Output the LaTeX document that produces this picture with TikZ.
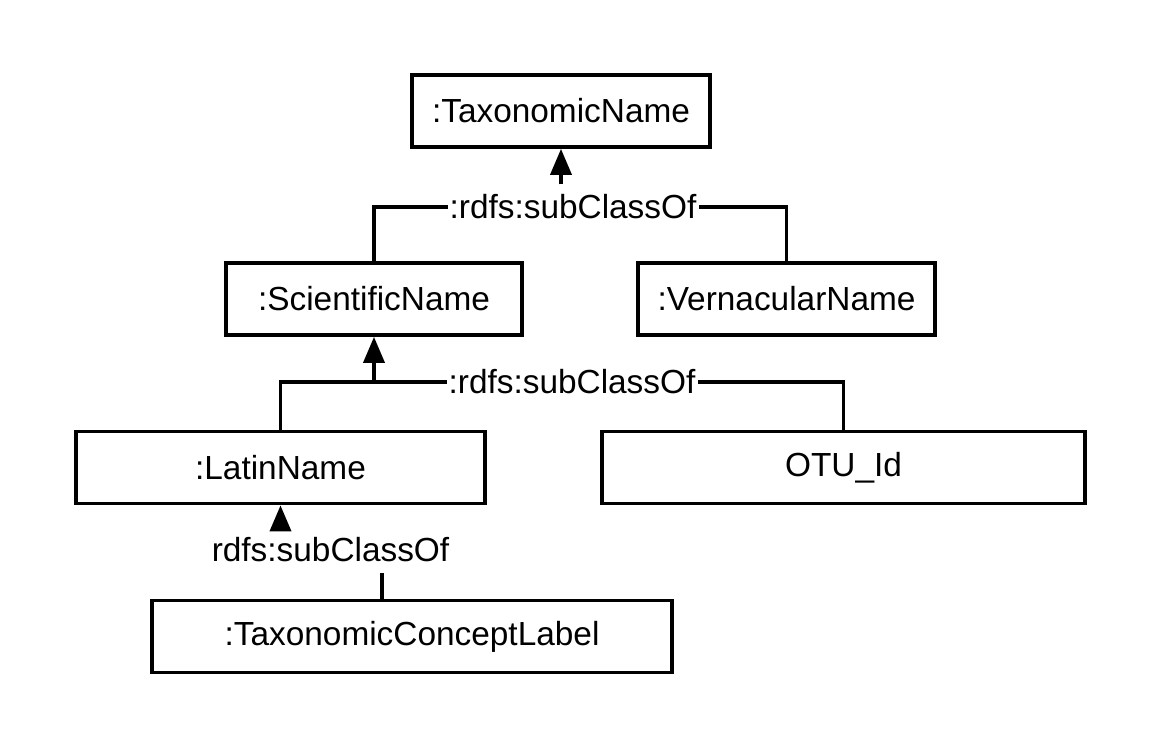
\documentclass[tikz,border=0pt]{standalone}
\usepackage{fontspec}
\setmainfont{Liberation Sans}
\usepackage{tikz}
\usetikzlibrary{arrows.meta,positioning,calc}

\begin{document}
\begin{tikzpicture}[
    cls/.style={draw, line width=2.1pt, minimum height=1.44cm, inner sep=0pt, font=\fontsize{19}{23}\selectfont},
    lbl/.style={inner xsep=1pt, inner ysep=0.2cm, font=\fontsize{19}{23}\selectfont},
    sub/.style={line width=2.1pt},
    isa/.style={sub, -{Triangle[length=0.52cm, width=0.42cm]}},
]
    \useasboundingbox (0,0) rectangle (23.26,-15);

    % Classes
    \node[cls, minimum width=5.96cm] (taxname) at (11.22, -2.22) {:TaxonomicName};
    \node[cls, minimum width=5.92cm] (sciname) at (7.48, -5.98) {:ScientificName};
    \node[cls, minimum width=5.94cm] (vernname) at (15.73, -5.98) {:VernacularName};
    \node[cls, minimum width=8.18cm] (latinname) at (5.61, -9.35) {:LatinName};
    \node[cls, minimum width=9.66cm] (otuid) at (16.87, -9.35) {OTU\_Id};
    \node[cls, minimum width=10.4cm] (conceptlabel) at (8.24, -12.73) {:TaxonomicConceptLabel};

    % Labels
    \node[lbl] (sub1) at (11.46, -4.14) {:rdfs:subClassOf};
    \node[lbl] (sub2) at (11.44, -7.64) {:rdfs:subClassOf};
    \node[lbl] (sub3) at (6.61, -11.0) {rdfs:subClassOf};

    % subClassOf links
    \draw[sub] (sciname.north) |- (sub1.west);
    \draw[sub] (vernname.north) |- (sub1.east);
    \draw[isa] (sub1.north -| taxname) -- (taxname.south);

    \draw[sub] (latinname.north) |- (sub2.west);
    \draw[sub] (otuid.north) |- (sub2.east);
    \draw[isa] (sciname |- sub2) -- (sciname.south);

    \coordinate (c3) at ([xshift=-0.6cm]conceptlabel.north);
    \draw[sub] (c3) -- (c3 |- sub3.south);
    \draw[isa] (sub3.north -| latinname) -- (latinname.south);
\end{tikzpicture}
\end{document}
